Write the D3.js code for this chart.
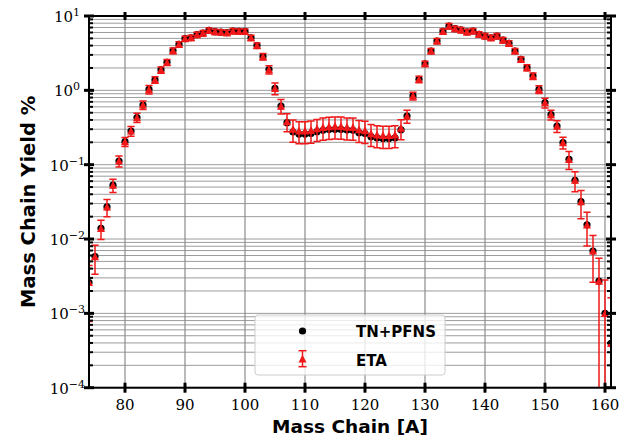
<!DOCTYPE html>
<html><head><meta charset="utf-8">
<script src="https://cdn.jsdelivr.net/npm/d3@7"></script>
<style>body{margin:0;background:#fff}svg{display:block}</style>
</head><body>
<svg id="c" width="627" height="442"></svg>
<script>
// ---------------- data ----------------
const massChain = [74,75,76,77,78,79,80,81,82,83,84,85,86,87,88,89,90,91,92,93,94,95,96,97,98,99,100,
  101,102,103,104,105,106,107,108,109,110,111,112,113,114,115,116,117,118,119,120,
  121,122,123,124,125,126,127,128,129,130,131,132,133,134,135,136,137,138,139,140,
  141,142,143,144,145,146,147,148,149,150,151,152,153,154,155,156,157,158,159,160,161];

const tnPfns = [0.0026,0.0058,0.0139,0.027,0.053,0.112,0.204,0.284,0.43,0.635,1.03,1.38,1.88,2.38,3.41,4.16,4.96,5.1,5.6,5.9,6.4,6.15,6.06,5.96,6.28,6.2,6.2,
  5.1,4.0,2.84,1.9,1.06,0.615,0.367,0.275,0.258,0.258,0.262,0.278,0.29,0.297,0.299,0.298,0.292,0.29,0.269,0.262,
  0.238,0.229,0.225,0.225,0.229,0.295,0.45,0.84,1.41,2.28,3.38,4.61,6.2,7.33,6.75,6.49,6.1,6.28,5.68,5.38,
  5.1,5.38,4.75,4.29,3.38,2.61,2.02,1.56,1.03,0.683,0.471,0.331,0.198,0.118,0.0617,0.0318,0.0155,0.0069,0.00272,0.00100,0.000395];

const eta = [0.0026,0.0058,0.0139,0.027,0.053,0.112,0.204,0.284,0.43,0.635,1.03,1.38,1.88,2.38,3.41,4.16,4.96,5.1,5.6,5.9,6.4,6.15,6.06,5.96,6.28,6.2,6.2,
  5.1,4.0,2.84,1.9,1.06,0.615,0.38,0.30,0.285,0.285,0.29,0.305,0.318,0.326,0.33,0.328,0.32,0.318,0.296,0.288,
  0.262,0.252,0.247,0.247,0.252,0.31,0.45,0.84,1.41,2.28,3.38,4.61,6.2,7.33,6.75,6.49,6.1,6.28,5.68,5.38,
  5.1,5.38,4.75,4.29,3.38,2.61,2.02,1.56,1.03,0.683,0.471,0.331,0.198,0.118,0.0617,0.0318,0.0155,0.0069,0.00272,0.00100,0.000395];

// relative 1-sigma uncertainty of ETA
const etaRelErr = [0.7,0.42,0.29,0.26,0.2,0.17,0.14,0.15,0.14,0.13,0.13,0.1,0.1,0.09,0.09,0.08,0.08,0.08,0.08,0.08,0.08,0.08,0.08,0.08,0.08,0.08,0.08,
  0.08,0.08,0.1,0.13,0.18,0.22,0.27,0.33,0.33,0.33,0.33,0.33,0.33,0.33,0.33,0.33,0.33,0.33,0.33,0.33,
  0.33,0.33,0.33,0.33,0.33,0.3,0.2,0.12,0.1,0.08,0.08,0.08,0.08,0.08,0.08,0.08,0.08,0.08,0.08,0.08,
  0.08,0.08,0.08,0.08,0.08,0.08,0.09,0.1,0.12,0.15,0.15,0.18,0.18,0.27,0.3,0.41,0.48,0.62,1.02,1.8,3.1];

const xTicks = [80,90,100,110,120,130,140,150,160];
const yExponents = [-4,-3,-2,-1,0,1];
const seriesNames = ["TN+PFNS","ETA"];
const xTitle = "Mass Chain [A]";
const yTitle = "Mass Chain Yield %";

// ---------------- drawing ----------------
const svg = d3.select("#c");
const L=89, R=611, T=16, B=387.7;
const x = d3.scaleLinear().domain([74,161]).range([L,R]);
const y = d3.scaleLog().domain([1e-4,1e1]).range([B,T]);
const RED = "#f01818";

svg.append("rect").attr("width",627).attr("height",442).attr("fill","#fff");
svg.append("defs").append("clipPath").attr("id","pc")
  .append("rect").attr("x",L).attr("y",T).attr("width",R-L).attr("height",B-T);

// grid
const grid = svg.append("g");
grid.selectAll("line.h").data(y.ticks()).join("line")
  .attr("x1",L).attr("x2",R).attr("y1",d=>y(d)).attr("y2",d=>y(d))
  .attr("stroke","#9c9c9c").attr("stroke-width",1);
grid.selectAll("line.v").data(xTicks).join("line")
  .attr("x1",d=>x(d)).attr("x2",d=>x(d)).attr("y1",T).attr("y2",B)
  .attr("stroke","#8c8c8c").attr("stroke-width",1.2);

// data
const data = massChain.map((a,i)=>({a, tn:tnPfns[i], eta:eta[i], err:eta[i]*etaRelErr[i]}));
const plot = svg.append("g").attr("clip-path","url(#pc)");

plot.selectAll("circle").data(data).join("circle")
  .attr("cx",d=>x(d.a)).attr("cy",d=>y(d.tn)).attr("r",3.6).attr("fill","#000");

const lo = d=> Math.max(d.eta-d.err, 1e-7);
const eb = plot.append("g").attr("stroke",RED).attr("stroke-width",1.5).attr("fill","none");
eb.selectAll("line.bar").data(data).join("line")
  .attr("x1",d=>x(d.a)).attr("x2",d=>x(d.a))
  .attr("y1",d=>y(d.eta+d.err)).attr("y2",d=>y(lo(d)));
eb.selectAll("line.capt").data(data).join("line")
  .attr("x1",d=>x(d.a)-3.6).attr("x2",d=>x(d.a)+3.6)
  .attr("y1",d=>y(d.eta+d.err)).attr("y2",d=>y(d.eta+d.err));
eb.selectAll("line.capb").data(data.filter(d=>d.eta-d.err>0)).join("line")
  .attr("x1",d=>x(d.a)-3.6).attr("x2",d=>x(d.a)+3.6)
  .attr("y1",d=>y(d.eta-d.err)).attr("y2",d=>y(d.eta-d.err));

const tri = (cx,cy)=>`M${cx},${cy-4.2}L${cx+4},${cy+3.6}L${cx-4},${cy+3.6}Z`;
plot.selectAll("path.tri").data(data).join("path")
  .attr("d",d=>tri(x(d.a),y(d.eta))).attr("fill",RED);

// spines and ticks
const ax = svg.append("g").attr("stroke","#000");
ax.append("rect").attr("x",L).attr("y",T).attr("width",R-L).attr("height",B-T)
  .attr("fill","none").attr("stroke-width",2);
xTicks.forEach(t=>{
  ax.append("line").attr("x1",x(t)).attr("x2",x(t)).attr("y1",B-5).attr("y2",B+5).attr("stroke-width",3);
  ax.append("line").attr("x1",x(t)).attr("x2",x(t)).attr("y1",T-4).attr("y2",T+4).attr("stroke-width",3);
});
y.ticks().forEach(v=>{
  const e = Math.log10(v), major = Math.abs(e-Math.round(e))<1e-9;
  if(major){
    ax.append("line").attr("x1",L-5).attr("x2",L+5).attr("y1",y(v)).attr("y2",y(v)).attr("stroke-width",3);
    ax.append("line").attr("x1",R-5).attr("x2",R+5).attr("y1",y(v)).attr("y2",y(v)).attr("stroke-width",3);
  } else {
    ax.append("line").attr("x1",L).attr("x2",L+4).attr("y1",y(v)).attr("y2",y(v)).attr("stroke-width",2);
    ax.append("line").attr("x1",R-4).attr("x2",R).attr("y1",y(v)).attr("y2",y(v)).attr("stroke-width",2);
  }
});

// tick labels
const tl = svg.append("g").attr("font-family","'DejaVu Serif', serif").attr("fill","#000");
tl.selectAll("text.x").data(xTicks).join("text")
  .attr("x",d=>x(d)).attr("y",410).attr("text-anchor","middle").attr("font-size",15).text(d=>d);
yExponents.forEach(e=>{
  const t = tl.append("text").attr("x",e<0?85:80).attr("y",y(Math.pow(10,e))+6)
    .attr("text-anchor","end").attr("font-size",15);
  t.append("tspan").text("10");
  t.append("tspan").attr("dy",-6).attr("font-size",11).text(e<0 ? "\u2212"+Math.abs(e) : String(e));
});

// axis titles
svg.append("text").attr("x",(L+R)/2).attr("y",433).attr("text-anchor","middle")
  .attr("font-family","'DejaVu Sans', sans-serif").attr("font-weight","bold").attr("font-size",18.5)
  .text(xTitle);
svg.append("text").attr("transform",`translate(35,${(T+B)/2}) rotate(-90)`).attr("text-anchor","middle")
  .attr("font-family","'DejaVu Sans', sans-serif").attr("font-weight","bold").attr("font-size",19.5)
  .text(yTitle);

// legend
const lg = svg.append("g");
lg.append("rect").attr("x",255).attr("y",315).attr("width",190).attr("height",60).attr("rx",3)
  .attr("fill","#fff").attr("fill-opacity",0.8).attr("stroke","#cccccc").attr("stroke-width",1);
lg.append("circle").attr("cx",302.5).attr("cy",331).attr("r",3.6).attr("fill","#000");
const lgE = lg.append("g").attr("stroke",RED).attr("stroke-width",1.5);
lgE.append("line").attr("x1",302.5).attr("x2",302.5).attr("y1",350.7).attr("y2",366.7);
lgE.append("line").attr("x1",298.5).attr("x2",306.5).attr("y1",350.7).attr("y2",350.7);
lgE.append("line").attr("x1",298.5).attr("x2",306.5).attr("y1",366.7).attr("y2",366.7);
lg.append("path").attr("d",tri(302.5,359)).attr("fill",RED);
lg.selectAll("text").data(seriesNames).join("text")
  .attr("x",356).attr("y",(d,i)=>337+i*28.5)
  .attr("font-family","'DejaVu Sans', sans-serif").attr("font-weight","bold").attr("font-size",15)
  .text(d=>d);
</script>
</body></html>
